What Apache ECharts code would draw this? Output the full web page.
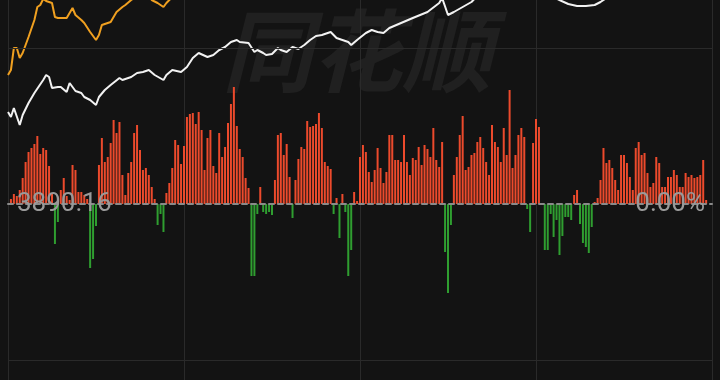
<!DOCTYPE html>
<html>
<head>
<meta charset="utf-8">
<script src="https://cdn.jsdelivr.net/npm/echarts@6/dist/echarts.min.js"></script>
<style>
html,body{margin:0;padding:0;background:#131313;}
#chart{width:720px;height:380px;}
</style>
</head>
<body>
<div id="chart"></div>
<script>
// ---- data ----
const prevClose = 3890.16;
const pctLabel = '0.00%';
const priceMin = 3872.56;   // bottom of the view
const priceMax = 3910.56;   // top of the view
const barLimit = 176;       // bar axis spans -176..176
const gridLevels = [156, -156];   // solid horizontal reference levels (bar units)

// per-minute bars (index 0 = 09:30 ... 240 = 15:00), positive red / negative green
const flowBars = [
  0, 5, 10, 8, 14, 26, 42, 52, 56, 60,
  68, 50, 56, 54, 38, 10, -40, -18, 14, 26,
  8, 4, 39, 34, 12, 12, 9, 5, -64, -55,
  -22, 39, 66, 42, 47, 61, 84, 71, 82, 29,
  9, 31, 42, 71, 79, 54, 34, 36, 29, 17,
  5, -21, -10, -28, 11, 21, 36, 64, 59, 40,
  58, 87, 90, 91, 80, 92, 74, 34, 66, 74,
  38, 31, 71, 47, 57, 81, 100, 117, 78, 55,
  47, 26, 16, -72, -72, -10, 17, -8, -10, -8,
  -11, 24, 69, 71, 49, 60, 27, -14, 24, 45,
  57, 55, 83, 77, 78, 80, 91, 76, 42, 38,
  35, -10, 6, -34, 10, -8, -72, -46, 12, 3,
  47, 59, 52, 32, 22, 34, 56, 36, 21, 32,
  69, 69, 44, 44, 42, 69, 42, 29, 46, 44,
  57, 39, 59, 55, 47, 76, 44, 37, 62, -48,
  -89, -21, 29, 47, 69, 88, 34, 37, 49, 51,
  62, 67, 56, 42, 29, 79, 62, 57, 42, 76,
  49, 114, 36, 49, 69, 76, 67, -5, -28, 61,
  85, 77, 0, -46, -46, -10, -33, -16, -51, -32,
  -13, -13, -16, 9, 14, -20, -39, -43, -49, -23,
  2, 6, 24, 56, 41, 44, 36, 24, 14, 49,
  49, 41, 27, 14, 56, 62, 49, 51, 31, 17,
  21, 47, 41, 17, 17, 27, 27, 34, 29, 17,
  17, 31, 27, 29, 26, 27, 29, 44, 4, 0,
  0
];

// white price line: [minute index, price]
const whiteLine = [
  [0,3899.36],[1,3898.86],[2,3899.76],[4,3898.06],[5,3899.06],[7,3900.26],[9,3901.26],
  [12,3902.56],[13,3903.06],[14,3902.86],[15,3901.76],[17,3901.86],[18,3901.86],[20,3901.36],
  [21,3902.26],[23,3901.46],[25,3901.26],[26,3900.86],[28,3900.56],[30,3900.06],[31,3900.86],
  [33,3901.56],[35,3902.06],[38,3902.76],[39,3902.56],[42,3902.86],[44,3903.26],[46,3903.36],
  [48,3903.56],[50,3903.06],[53,3902.56],[54,3903.06],[56,3903.56],[59,3903.36],[61,3903.86],
  [63,3904.76],[65,3905.26],[68,3904.86],[70,3905.06],[72,3905.56],[74,3905.86],[76,3906.36],
  [78,3906.56],[79,3906.36],[82,3906.26],[84,3905.36],[85,3905.56],[87,3905.26],[88,3905.06],
  [90,3905.16],[92,3905.76],[93,3905.56],[95,3905.36],[97,3905.86],[99,3905.66],[101,3906.06],
  [103,3906.56],[105,3906.96],[107,3907.06],[110,3907.36],[112,3906.76],[114,3906.56],[116,3906.36],
  [117,3906.06],[119,3906.56],[122,3907.26],[124,3907.56],[126,3907.36],[128,3907.26],[130,3907.76],
  [134,3908.26],[138,3908.76],[143,3909.36],[147,3910.26],[148,3910.76],[150,3909.06],[152,3909.36],
  [155,3909.86],[158,3910.36],[160,3910.96],[165,3911.76],[170,3911.36],[175,3912.16],[180,3911.66],
  [185,3910.96],[188,3910.56],[191,3910.16],[194,3909.96],[197,3909.96],[200,3910.06],[202,3910.36],
  [204,3910.76],[208,3911.46],[212,3912.06],[216,3912.56],[220,3913.06],[225,3913.56],[230,3913.16],
  [235,3913.76],[240,3914.16]
];

// orange line: [minute index, price]
const orangeLine = [
  [0,3903.06],[1,3903.56],[2,3905.76],[3,3905.76],[4,3904.76],[5,3905.26],[7,3906.86],[9,3908.56],
  [10,3909.86],[11,3910.06],[12,3910.66],[13,3910.46],[15,3910.26],[16,3908.86],[17,3908.76],
  [19,3908.76],[20,3908.76],[22,3909.76],[23,3909.06],[25,3908.56],[26,3908.26],[28,3907.36],
  [30,3906.56],[31,3907.06],[32,3908.06],[34,3908.26],[35,3908.36],[36,3908.86],[37,3909.36],
  [39,3909.86],[40,3910.06],[42,3910.56],[45,3911.16],[48,3910.96],[49,3910.56],[51,3910.26],
  [53,3909.86],[54,3910.26],[55,3910.56],[58,3911.36],[60,3911.96],[70,3912.76],[80,3913.56],
  [90,3913.16],[100,3913.96],[110,3914.76],[120,3914.36],[130,3915.16],[140,3915.96],[150,3915.36],
  [160,3916.56],[170,3916.96],[180,3916.36],[190,3915.76],[200,3916.06],[210,3916.96],[220,3917.56],
  [230,3917.36],[240,3917.96]
];

// time categories 09:30-11:30, 13:01-15:00
const times = [];
function pad(n){return (n<10?'0':'')+n;}
for (let m = 9*60+30; m <= 11*60+30; m++) times.push(pad(Math.floor(m/60))+':'+pad(m%60));
for (let m = 13*60+1; m <= 15*60; m++) times.push(pad(Math.floor(m/60))+':'+pad(m%60));

// ---- chart ----
const chart = echarts.init(document.getElementById('chart'));
const labelFont = { color: '#9a9a9a', fontSize: 26, fontFamily: 'Roboto, "Noto Sans", sans-serif' };
const priceStep = prevClose - priceMin;
const pctMin = (priceMin / prevClose - 1) * 100;
const pctMax = (priceMax / prevClose - 1) * 100;

chart.setOption({
  backgroundColor: '#131313',
  animation: false,
  graphic: [{
    type: 'text',
    left: 222,
    top: 6,
    z: 0,
    silent: true,
    style: {
      text: '同花顺',
      fill: '#202020',
      font: 'italic bold 90px "Noto Sans CJK SC"'
    }
  }],
  grid: [
    { left: 8, right: 8, top: 0, bottom: 0, containLabel: false },   // price lines
    { left: 8, right: 8, top: 28, bottom: 0, containLabel: false }   // bars, zero in the middle
  ],
  xAxis: [
    {
      type: 'category', data: times, boundaryGap: false, gridIndex: 0,
      axisLine: { show: false }, axisTick: { show: false }, axisLabel: { show: false },
      splitLine: {
        show: true,
        interval: function (idx) { return idx % 60 === 0; },
        lineStyle: { color: '#2a2a2a', width: 1 }
      }
    },
    { // its axis line sits on the bars' zero: the dashed baseline
      type: 'category', data: times, boundaryGap: false, gridIndex: 1,
      z: 5, zlevel: 1,
      axisLine: {
        show: true, onZero: true, onZeroAxisIndex: 2,
        lineStyle: { color: '#8a8a8a', type: [5, 4], width: 2 }
      },
      axisTick: { show: false }, axisLabel: { show: false }, splitLine: { show: false }
    }
  ],
  yAxis: [
    { // price axis (left)
      type: 'value', gridIndex: 0, position: 'left', z: 10, zlevel: 2,
      min: priceMin, max: priceMax, interval: priceStep,
      axisLine: { show: false }, axisTick: { show: false }, splitLine: { show: false },
      axisLabel: Object.assign({
        inside: true, margin: 9, verticalAlign: 'middle',
        formatter: function (v) { return Math.abs(v - prevClose) < 0.005 ? prevClose.toFixed(2) : ''; }
      }, labelFont)
    },
    { // percent axis (right)
      type: 'value', gridIndex: 0, position: 'right', z: 10, zlevel: 2,
      min: pctMin, max: pctMax, interval: -pctMin,
      axisLine: { show: false }, axisTick: { show: false }, splitLine: { show: false },
      axisLabel: Object.assign({
        inside: true, margin: 7, verticalAlign: 'middle',
        formatter: function (v) { return Math.abs(v) < 1e-6 ? pctLabel : ''; }
      }, labelFont)
    },
    { // bar axis
      type: 'value', gridIndex: 1, position: 'left',
      min: -barLimit, max: barLimit, interval: barLimit,
      axisLine: { show: false }, axisTick: { show: false }, axisLabel: { show: false },
      splitLine: { show: false }
    }
  ],
  series: [
    { // solid reference levels
      type: 'line',
      xAxisIndex: 1,
      yAxisIndex: 2,
      data: [],
      silent: true,
      z: 1,
      markLine: {
        silent: true,
        symbol: 'none',
        label: { show: false },
        lineStyle: { color: '#2a2a2a', type: 'solid', width: 1 },
        data: gridLevels.map(function (v) { return { yAxis: v }; })
      }
    },
    {
      type: 'bar',
      xAxisIndex: 1,
      yAxisIndex: 2,
      data: flowBars,
      barWidth: 2,
      z: 2,
      itemStyle: {
        color: function (p) { return p.value >= 0 ? '#ec4a2c' : '#2f9e30'; }
      }
    },
    {
      type: 'line',
      xAxisIndex: 0,
      yAxisIndex: 0,
      data: whiteLine,
      showSymbol: false,
      smooth: false,
      z: 4,
      lineStyle: { color: '#f2f2f2', width: 2 }
    },
    {
      type: 'line',
      xAxisIndex: 0,
      yAxisIndex: 0,
      data: orangeLine,
      showSymbol: false,
      smooth: false,
      z: 3,
      lineStyle: { color: '#f0a020', width: 2 }
    }
  ]
});
</script>
</body>
</html>
